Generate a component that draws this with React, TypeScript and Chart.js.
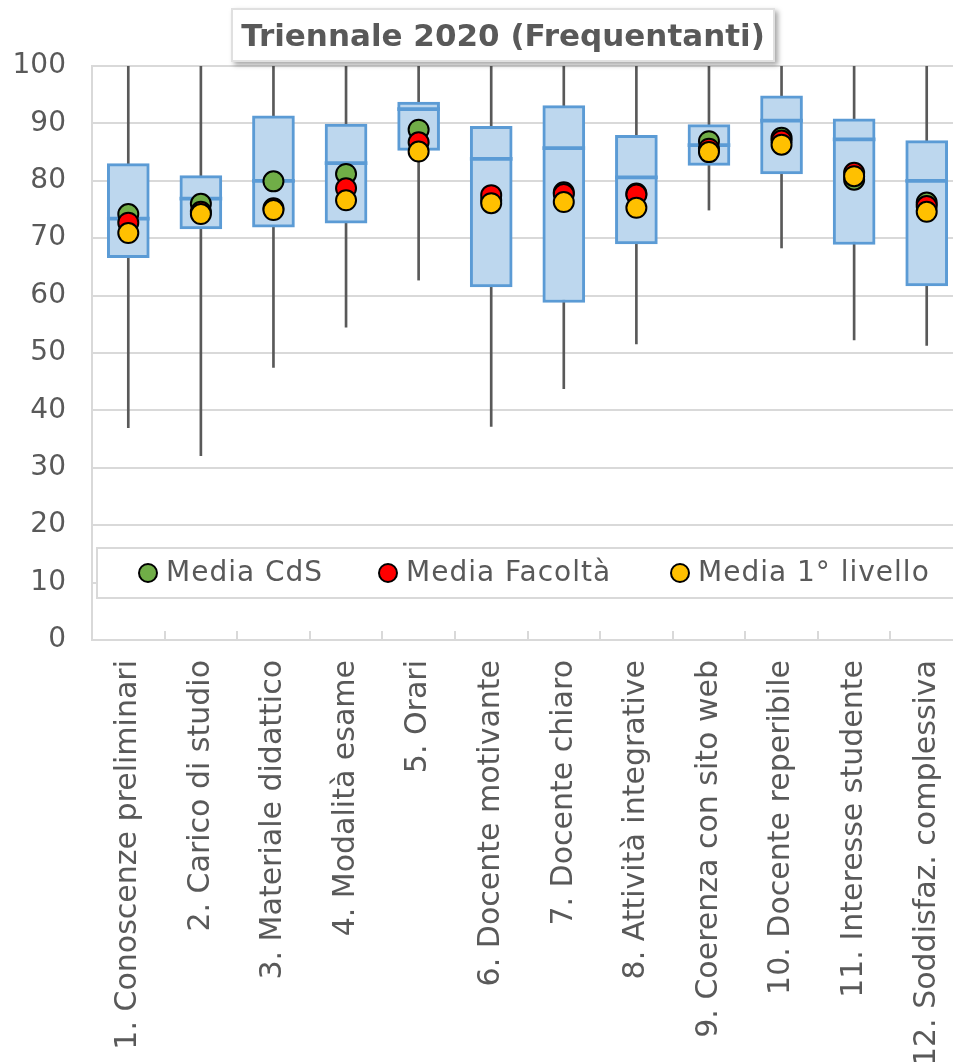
import React, { useEffect, useRef } from 'react';
import { Chart, registerables } from 'chart.js';

Chart.register(...registerables);

const titleText = 'Triennale 2020 (Frequentanti)';

const categories = [
  '1. Conoscenze preliminari',
  '2. Carico di studio',
  '3. Materiale didattico',
  '4. Modalità esame',
  '5. Orari',
  '6. Docente motivante',
  '7. Docente chiaro',
  '8. Attività integrative',
  '9. Coerenza con sito web',
  '10. Docente reperibile',
  '11. Interesse studente',
  '12. Soddisfaz. complessiva',
];

const whiskerMin = [37.0, 32.1, 47.5, 54.5, 62.7, 37.2, 43.8, 51.6, 74.9, 68.3, 52.3, 51.3];
const whiskerMax = [100, 100, 100, 100, 100, 100, 100, 100, 100, 100, 100, 100];
const q1 = [66.6, 71.6, 71.9, 72.6, 85.3, 61.5, 58.8, 69.0, 82.7, 81.2, 68.9, 61.7];
const median = [73.4, 76.9, 80.0, 83.1, 92.5, 83.8, 85.7, 80.6, 86.2, 90.5, 87.2, 80.0];
const q3 = [83.0, 80.9, 91.3, 89.9, 93.7, 89.5, 93.1, 87.9, 89.8, 94.8, 90.8, 87.0];

const mediaCdS = [74.2, 76.0, 79.9, 81.2, 88.9, 76.6, 78.0, 77.8, 86.9, 87.5, 80.2, 76.2];
const mediaFacolta = [72.7, 74.6, 75.2, 78.7, 86.7, 77.5, 77.7, 77.6, 85.6, 87.0, 81.4, 75.6];
const media1Livello = [70.9, 74.2, 74.9, 76.6, 85.1, 76.1, 76.3, 75.3, 85.0, 86.3, 80.8, 74.6];

const yTicks = [0, 10, 20, 30, 40, 50, 60, 70, 80, 90, 100];

const legendLabels = ['Media CdS', 'Media Facoltà', 'Media 1° livello'];

const FONT = '"DejaVu Sans", sans-serif';
const GREY_TEXT = '#595959';
const GRID = '#D9D9D9';
const BOX_FILL = '#BDD7EE';
const BOX_LINE = '#5B9BD5';
const WHISKER = '#595959';
const GREEN = '#70AD47';
const RED = '#FF0000';
const YELLOW = '#FFC000';

const legendPlugin = {
  id: 'insideLegend',
  afterDraw(chart: any) {
    const { ctx, chartArea } = chart;
    const top = chartArea.bottom - 92;
    const h = 50;
    const left = chartArea.left + 5;
    ctx.save();
    ctx.fillStyle = '#FFFFFF';
    ctx.fillRect(left, top, chartArea.right + 20 - left, h);
    ctx.strokeStyle = GRID;
    ctx.lineWidth = 2;
    ctx.strokeRect(left, top, chartArea.right + 20 - left, h);
    const colors = [GREEN, RED, YELLOW];
    const offsets = [56, 296, 588];
    const cy = top + h / 2;
    ctx.font = `28px ${FONT}`;
    try { (ctx as any).letterSpacing = '1px'; } catch (e) {}
    ctx.textBaseline = 'middle';
    ctx.textAlign = 'left';
    legendLabels.forEach((lab, i) => {
      const cx = chartArea.left + offsets[i];
      ctx.beginPath();
      ctx.arc(cx, cy, 9, 0, Math.PI * 2);
      ctx.fillStyle = colors[i];
      ctx.fill();
      ctx.lineWidth = 2;
      ctx.strokeStyle = '#000000';
      ctx.stroke();
      ctx.fillStyle = GREY_TEXT;
      ctx.fillText(lab, cx + 18, cy + 1);
    });
    ctx.restore();
  },
};

export default function App() {
  const canvasRef = useRef<HTMLCanvasElement | null>(null);

  useEffect(() => {
    const canvas = canvasRef.current;
    if (!canvas) return;
    const range = (a: number[], b: number[]) => a.map((v, i) => [v, b[i]]);
    const medBars = median.map((m) => [m - 0.27, m + 0.27]);

    const pointDs = (label: string, data: number[], color: string, order: number) => ({
      type: 'line' as const,
      label,
      data,
      showLine: false,
      pointRadius: 10,
      pointHoverRadius: 10,
      pointBorderWidth: 2,
      pointBackgroundColor: color,
      pointBorderColor: '#000000',
      backgroundColor: color,
      borderColor: '#000000',
      order,
    });

    const chart = new Chart(canvas, {
      type: 'bar',
      data: {
        labels: categories,
        datasets: [
          {
            type: 'bar',
            label: 'whisker',
            data: range(whiskerMin, whiskerMax) as any,
            backgroundColor: WHISKER,
            borderWidth: 0,
            barThickness: 2,
            grouped: false,
            order: 10,
          } as any,
          {
            type: 'bar',
            label: 'box',
            data: range(q1, q3) as any,
            backgroundColor: BOX_FILL,
            borderColor: BOX_LINE,
            borderWidth: 3,
            borderSkipped: false,
            barThickness: 42,
            grouped: false,
            order: 9,
          } as any,
          {
            type: 'bar',
            label: 'median',
            data: medBars as any,
            backgroundColor: BOX_LINE,
            borderWidth: 0,
            barThickness: 42,
            grouped: false,
            order: 8,
          } as any,
          pointDs(legendLabels[0], mediaCdS, GREEN, 3) as any,
          pointDs(legendLabels[1], mediaFacolta, RED, 2) as any,
          pointDs(legendLabels[2], media1Livello, YELLOW, 1) as any,
        ],
      },
      options: {
        responsive: false,
        animation: false,
        layout: { padding: { top: 66, right: 12, left: 0, bottom: 0 } },
        plugins: {
          legend: { display: false },
          tooltip: { enabled: false },
          title: { display: false },
        },
        scales: {
          x: {
            type: 'category',
            offset: true,
            grid: {
              offset: true,
              drawOnChartArea: false,
              drawTicks: true,
              tickLength: -9,
              color: GRID,
              lineWidth: 2,
            },
            border: { display: true, color: GRID, width: 2 },
            ticks: {
              autoSkip: false,
              maxRotation: 90,
              minRotation: 90,
              padding: 29,
              color: GREY_TEXT,
              font: { family: FONT, size: 30 },
            },
            afterFit: (scale: any) => {
              scale.height = 422;
              scale.paddingLeft = 0;
              scale.paddingRight = 0;
            },
          },
          y: {
            min: 0,
            max: 100,
            afterBuildTicks: (scale: any) => {
              scale.ticks = yTicks.map((v) => ({ value: v }));
            },
            grid: { color: GRID, lineWidth: 2, drawTicks: false },
            border: { display: true, color: GRID, width: 2 },
            ticks: {
              padding: 26,
              color: GREY_TEXT,
              font: { family: FONT, size: 28 },
            },
            afterFit: (scale: any) => {
              scale.width = 92;
              scale.paddingTop = 0;
              scale.paddingBottom = 0;
            },
          },
        },
      } as any,
      plugins: [legendPlugin],
    });
    return () => chart.destroy();
  }, []);

  return (
    <div
      style={{
        position: 'fixed',
        left: 0,
        top: 0,
        width: 953,
        height: 1062,
        overflow: 'hidden',
        background: '#FFFFFF',
      }}
    >
      <canvas ref={canvasRef} width={975} height={1062} style={{ display: 'block' }} />
      <div
        style={{
          position: 'absolute',
          left: 231,
          top: 8,
          width: 544,
          height: 54,
          boxSizing: 'border-box',
          border: '2px solid #E0E0E0',
          background: '#FFFFFF',
          boxShadow: '3px 3px 5px rgba(0,0,0,0.35)',
          color: GREY_TEXT,
          fontFamily: FONT,
          fontWeight: 'bold',
          fontSize: 31,
          lineHeight: '50px',
          textAlign: 'center',
          whiteSpace: 'nowrap',
        }}
      >
        {titleText}
      </div>
    </div>
  );
}
